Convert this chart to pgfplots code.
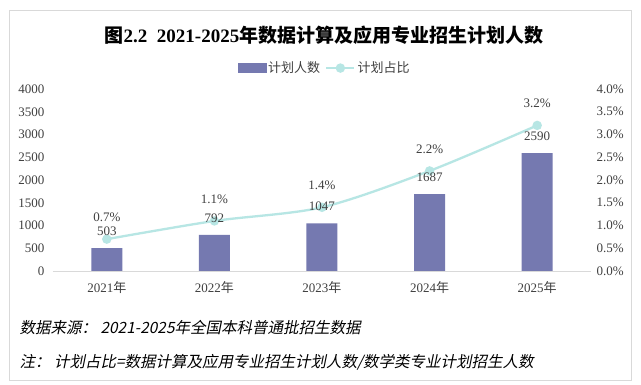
\documentclass[border=0pt]{standalone}
\usepackage{pgfplots}
\pgfplotsset{compat=1.18}
\usepackage{fontspec}
\setmainfont{Liberation Serif}
\newfontfamily\cjk{Noto Sans CJK SC}
\newfontfamily\cjki[FakeSlant=0.2]{Noto Sans CJK SC}
\definecolor{barc}{RGB}{117,121,176}
\definecolor{linec}{RGB}{183,230,228}
\definecolor{framec}{RGB}{217,217,217}
\definecolor{txt}{RGB}{64,64,64}
\pgfkeys{/pgf/number format/1000 sep={}}
\begin{document}
\begin{tikzpicture}[x=1pt,y=1pt]
\fill[white] (0,0) rectangle (641,385);
\draw[framec] (9,5) rectangle (631,375);
\node[font=\bfseries\fontsize{19}{22}\selectfont, text=black] at (324,350) {{\cjk 图}2.2\ \ 2021-2025{\cjk 年数据计算及应用专业招生计划人数}};
\begin{axis}[
  at={(53pt,114pt)}, anchor=south west, scale only axis,
  width=538pt, height=182pt,
  xmin=-0.5, xmax=4.5, ymin=0, ymax=4000,
  ytick={0,500,...,4000}, xtick={0,...,4},
  xticklabels={2021{\cjk 年},2022{\cjk 年},2023{\cjk 年},2024{\cjk 年},2025{\cjk 年}},
  axis x line*=bottom, axis y line*=left,
  y axis line style={draw=none},
  x axis line style={draw=framec, line width=0.8pt},
  major tick length=0pt,
  tick label style={font=\fontsize{13}{15}\selectfont, text=txt},
  yticklabel style={/pgf/number format/assume math mode=true, xshift=-5pt},
  xticklabel style={yshift=-7pt},
  ybar, bar width=31pt,
]
\addplot[fill=barc, draw=none] coordinates {(0,503) (1,792) (2,1047) (3,1687) (4,2590)};
\end{axis}
\begin{axis}[
  at={(53pt,114pt)}, anchor=south west, scale only axis,
  width=538pt, height=182pt,
  xmin=-0.5, xmax=4.5, ymin=0, ymax=4,
  ytick={0,0.5,...,4},
  yticklabels={0.0\%,0.5\%,1.0\%,1.5\%,2.0\%,2.5\%,3.0\%,3.5\%,4.0\%},
  axis x line=none, axis y line*=right,
  y axis line style={draw=none},
  major tick length=0pt,
  tick label style={font=\fontsize{13}{15}\selectfont, text=txt},
  yticklabel style={xshift=2pt},
  legend columns=2,
  legend style={draw=none, fill=none, at={(axis description cs:0.505,1.115)}, anchor=center,
    font=\cjk\fontsize{13}{15}\selectfont, text=txt,
    /tikz/every even column/.append style={column sep=3pt}},
  legend cell align=left,
]
\addlegendimage{legend image code/.code={\fill[barc] (0pt,-4.5pt) rectangle (28pt,4.5pt);}}
\addlegendentry{计划人数}
\addplot[linec, line width=2.3pt, smooth, mark=*, mark size=3.5pt, mark options={fill=linec, draw=linec},
  point meta=explicit symbolic, nodes near coords,
  every node near coord/.append style={font=\fontsize{13}{15}\selectfont, text=txt, anchor=center, yshift=22pt},
  legend image code/.code={\draw[linec,line width=2.3pt] (0pt,0pt) -- (28pt,0pt); \fill[linec] (14pt,0pt) circle (3.5pt);}]
  coordinates {(0,0.7)[0.7\%] (1,1.1)[1.1\%] (2,1.4)[1.4\%] (3,2.2)[2.2\%] (4,3.2)[3.2\%]};
\addlegendentry{计划占比}
% bar value labels (bar values /1000 on this axis, same scale)
\addplot[draw=none, mark=none, forget plot,
  point meta=explicit symbolic, nodes near coords,
  every node near coord/.append style={font=\fontsize{13}{15}\selectfont, text=txt, anchor=center, yshift=17pt}]
  coordinates {(0,0.503)[503] (1,0.792)[792] (2,1.047)[1047] (3,1.687)[1687] (4,2.590)[2590]};
\end{axis}
\node[anchor=west, font=\cjki\fontsize{15.5}{18}\selectfont, text=black] at (16,57) {数据来源：\ 2021-2025年全国本科普通批招生数据};
\node[anchor=west, font=\cjki\fontsize{15.5}{18}\selectfont, text=black] at (16,23) {注：\ 计划占比=数据计算及应用专业招生计划人数/数学类专业计划招生人数};
\end{tikzpicture}
\end{document}
